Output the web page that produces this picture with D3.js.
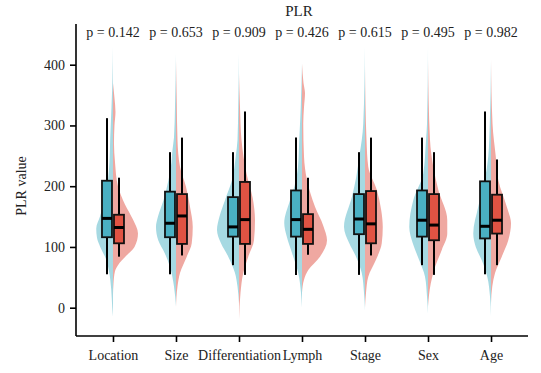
<!DOCTYPE html>
<html>
<head>
<meta charset="utf-8">
<script src="https://cdn.jsdelivr.net/npm/d3@7"></script>
<style>
  body { margin: 0; background: #fff; }
  text { font-family: "Liberation Serif", "Times New Roman", serif; fill: #222; }
  .axis path, .axis line { stroke: #000; stroke-width: 1.6; }
</style>
</head>
<body>
<div id="chart"></div>
<script>
// categories and p values
var categories = ["Location", "Size", "Differentiation", "Lymph", "Stage", "Sex", "Age"];
var pValues = ["0.142", "0.653", "0.909", "0.426", "0.615", "0.495", "0.982"];
var yTicks = [0, 100, 200, 300, 400];

// box stats: [min, q1, median, q3, max]
var boxLeft = [
  [55, 116, 147, 209, 312],
  [55, 116, 139, 191, 256],
  [70, 117, 133, 182, 256],
  [54, 117, 145, 193, 280],
  [54, 121, 146, 187, 256],
  [70, 117, 144, 193, 280],
  [55, 114, 134, 208, 323]
];
var boxRight = [
  [84, 106, 132, 153, 214],
  [86, 105, 151, 187, 280],
  [54, 105, 145, 207, 323],
  [87, 105, 129, 154, 214],
  [86, 106, 138, 192, 280],
  [54, 111, 136, 187, 256],
  [70, 122, 144, 186, 244]
];

// half violin profiles: [value, relative density]
var densLeft = [
  [[430,0],[380,.02],[330,.06],[280,.11],[240,.14],[210,.2],[180,.32],[150,.52],[130,.67],[115,.64],[100,.51],[80,.28],[60,.16],[30,.07],[0,.03],[-15,0]],
  [[419,0],[330,.04],[280,.08],[260,.14],[240,.18],[210,.3],[177,.5],[150,.72],[133,.8],[111,.71],[89,.44],[67,.24],[35,.08],[2,0]],
  [[419,0],[330,.03],[276,.06],[249,.13],[210,.28],[177,.56],[150,.78],[128,.88],[106,.72],[84,.43],[57,.16],[35,.06],[7,0]],
  [[402,0],[330,.05],[276,.11],[232,.16],[200,.3],[177,.48],[139,.71],[117,.61],[89,.39],[57,.15],[24,.04],[0,0]],
  [[430,0],[303,.07],[276,.13],[249,.23],[215,.35],[183,.52],[133,.84],[106,.63],[84,.36],[57,.13],[24,.04],[-5,0]],
  [[430,0],[303,.04],[276,.08],[221,.19],[177,.59],[133,.75],[106,.61],[78,.35],[51,.12],[18,.04],[-10,0]],
  [[408,0],[303,.05],[249,.11],[210,.25],[166,.51],[122,.71],[100,.61],[78,.37],[51,.15],[18,.04],[-15,0]]
];
var densRight = [
  [[370,0],[345,.06],[322,.1],[300,.06],[270,.04],[240,.08],[200,.2],[170,.48],[145,.8],[122,1],[100,.86],[85,.52],[70,.2],[60,.08],[40,.02],[20,0]],
  [[408,0],[340,.03],[276,.06],[232,.16],[199,.4],[166,.56],[133,.67],[106,.63],[84,.43],[57,.16],[35,.06],[0,0]],
  [[386,0],[330,.04],[276,.1],[221,.3],[180,.55],[144,.64],[111,.6],[84,.37],[57,.17],[24,.06],[-20,0]],
  [[402,0],[370,.06],[353,.12],[330,.08],[303,.05],[249,.08],[210,.2],[166,.52],[135,.85],[111,1],[84,.72],[62,.25],[46,.08],[24,0]],
  [[397,0],[276,.06],[232,.13],[194,.47],[160,.65],[133,.71],[106,.67],[78,.43],[51,.13],[24,.04],[0,0]],
  [[408,0],[276,.08],[232,.21],[194,.41],[144,.77],[122,.77],[95,.55],[67,.28],[40,.11],[2,0]],
  [[408,0],[303,.06],[249,.19],[210,.29],[166,.63],[139,.8],[111,.69],[84,.43],[57,.16],[35,.05],[7,0]]
];

var W = 541, H = 373;
var margin = { top: 24, right: 13, bottom: 37, left: 76 };
var width = W - margin.left - margin.right;
var height = H - margin.top - margin.bottom;

var svg = d3.select("#chart").append("svg")
  .attr("width", W)
  .attr("height", H)
  .append("g")
  .attr("transform", "translate(" + margin.left + "," + margin.top + ")");

var x = d3.scalePoint()
  .domain(categories)
  .range([0, width])
  .padding(0.587);

var y = d3.scaleLinear()
  .domain([-46.6, 467])
  .range([height, 0]);

var w = d3.scaleLinear().domain([0, 1]).range([0, 25]);

var colors = {
  violinL: "#a6d9e2", violinR: "#efa8a1",
  boxL: "#4ab0c3", boxR: "#e05343"
};

// violins
function halfViolin(data, side) {
  var area = d3.area()
    .curve(d3.curveMonotoneY)
    .y(function(d){ return y(d[0]); })
    .x0(0)
    .x1(function(d){ return side * w(d[1]); });
  return area(data.slice().sort(function(a, b){ return a[0] - b[0]; }));
}

var groups = svg.selectAll(".cat")
  .data(categories)
  .enter()
  .append("g")
  .attr("class", "cat")
  .attr("transform", function(d){ return "translate(" + x(d) + ",0)"; });

groups.append("path")
  .attr("d", function(d, i){ return halfViolin(densLeft[i], -1); })
  .style("fill", colors.violinL);
groups.append("path")
  .attr("d", function(d, i){ return halfViolin(densRight[i], 1); })
  .style("fill", colors.violinR);

// boxes
var offset = 6, boxW = 10;
function drawBox(stats, dx, fill) {
  groups.append("line")
    .attr("x1", dx).attr("x2", dx)
    .attr("y1", function(d, i){ return y(stats[i][0]); })
    .attr("y2", function(d, i){ return y(stats[i][4]); })
    .style("stroke", "#000").style("stroke-width", 2);
  groups.append("rect")
    .attr("x", dx - boxW / 2)
    .attr("width", boxW)
    .attr("y", function(d, i){ return y(stats[i][3]); })
    .attr("height", function(d, i){ return y(stats[i][1]) - y(stats[i][3]); })
    .style("fill", fill)
    .style("stroke", "#111").style("stroke-width", 1.8);
  groups.append("line")
    .attr("x1", dx - boxW / 2).attr("x2", dx + boxW / 2)
    .attr("y1", function(d, i){ return y(stats[i][2]); })
    .attr("y2", function(d, i){ return y(stats[i][2]); })
    .style("stroke", "#000").style("stroke-width", 3);
}
drawBox(boxLeft, -offset, colors.boxL);
drawBox(boxRight, offset, colors.boxR);

// p value labels
groups.append("text")
  .attr("y", 13)
  .attr("text-anchor", "middle")
  .style("font-size", "14px")
  .text(function(d, i){ return "p = " + pValues[i]; });

// axes
function serifTicks(g) {
  g.attr("font-family", null).attr("font-size", null);
  g.selectAll("text")
    .style("font-family", "'Liberation Serif', 'Times New Roman', serif")
    .style("font-size", "14px")
    .style("fill", "#222");
}

var xAxis = d3.axisBottom(x).tickSize(6).tickPadding(8);
svg.append("g")
  .attr("class", "axis")
  .attr("transform", "translate(0," + height + ")")
  .call(xAxis)
  .call(function(g){ g.select(".domain").attr("d", "M0,0H" + width); })
  .call(serifTicks);

var yAxis = d3.axisLeft(y).tickValues(yTicks).tickSize(6).tickPadding(5);
svg.append("g")
  .attr("class", "axis")
  .call(yAxis)
  .call(function(g){ g.select(".domain").attr("d", "M0," + height + "V0"); })
  .call(serifTicks);

// title and y label
svg.append("text")
  .attr("x", width / 2 - 3)
  .attr("y", -8)
  .attr("text-anchor", "middle")
  .style("font-size", "15px")
  .text("PLR");

svg.append("text")
  .attr("transform", "rotate(-90)")
  .attr("x", -162)
  .attr("y", -50)
  .attr("text-anchor", "middle")
  .style("font-size", "14px")
  .text("PLR value");
</script>
</body>
</html>
